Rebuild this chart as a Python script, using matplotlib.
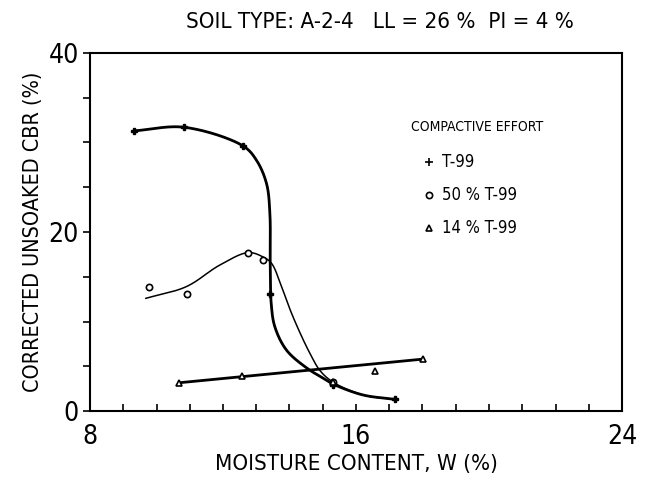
import numpy as np
import matplotlib
matplotlib.use('Agg')
import matplotlib.pyplot as plt
from matplotlib import font_manager

fonts = font_manager.fontManager.ttflist
names = {f.name for f in fonts}
if 'Liberation Sans Narrow' in names:
    FONT, STRETCH = 'Liberation Sans Narrow', 'normal'
elif any(f.name == 'DejaVu Sans' and f.stretch == 'condensed' for f in fonts):
    FONT, STRETCH = 'DejaVu Sans', 'condensed'
elif 'Roboto Condensed' in names:
    FONT, STRETCH = 'Roboto Condensed', 'normal'
else:
    FONT, STRETCH = 'DejaVu Sans', 'condensed'
plt.rcParams['font.family'] = [FONT, 'DejaVu Sans']
plt.rcParams['font.stretch'] = STRETCH

# ---- data points ----
t99_x = [9.33, 10.84, 12.61, 13.41, 15.32, 17.17]
t99_y = [31.3, 31.7, 29.6, 13.1, 2.9, 1.3]
p50_x = [9.78, 10.91, 12.76, 13.21, 15.32]
p50_y = [13.9, 13.1, 17.7, 16.9, 3.2]
p14_x = [10.69, 12.58, 15.32, 16.57, 18.02]
p14_y = [3.16, 3.94, 3.2, 4.47, 5.8]

# ---- hand-fitted curves ----
t99_fit_x = [9.33, 10.84, 12.61, 13.01, 13.31, 13.41, 13.42, 13.45, 13.56, 13.91, 14.52, 15.02, 15.32, 16.2, 17.17]
t99_fit_y = [31.3, 31.7, 29.6, 28.0, 25.4, 22.1, 16.5, 12.0, 9.4, 6.8, 4.8, 3.65, 3.0, 1.8, 1.3]
p50_fit_x = [9.68, 10.9, 11.9, 12.76, 13.21, 13.46, 13.76, 14.02, 14.32, 14.62, 14.92, 15.32, 16.2, 17.17]
p50_fit_y = [12.59, 13.9, 16.3, 17.7, 17.2, 16.5, 13.9, 11.3, 8.7, 6.4, 4.5, 3.2, 1.8, 1.3]

xticks = [8, 16, 24]
yticks = [0, 20, 40]

W, H = 649, 486
fig = plt.figure(figsize=(W / 100, H / 100), dpi=100)
ax = fig.add_axes([90 / W, 1 - 411 / H, (622 - 90) / W, (411 - 53) / H])
ax.set_xlim(8, 24)
ax.set_ylim(0, 40)


def smooth(xs, ys, n=40, alpha=0.5):
    # centripetal Catmull-Rom in display space
    sx, sy = 532 / 16.0, 358 / 40.0
    P = np.column_stack([np.asarray(xs) * sx, np.asarray(ys) * sy])
    P = np.vstack([2 * P[0] - P[1], P, 2 * P[-1] - P[-2]])
    out = []
    for i in range(len(P) - 3):
        p0, p1, p2, p3 = P[i:i + 4]
        def tj(ti, a, b):
            return ti + max(np.linalg.norm(b - a), 1e-6) ** alpha
        t0 = 0.0
        t1 = tj(t0, p0, p1)
        t2 = tj(t1, p1, p2)
        t3 = tj(t2, p2, p3)
        t = np.linspace(t1, t2, n)[:, None]
        A1 = (t1 - t) / (t1 - t0) * p0 + (t - t0) / (t1 - t0) * p1
        A2 = (t2 - t) / (t2 - t1) * p1 + (t - t1) / (t2 - t1) * p2
        A3 = (t3 - t) / (t3 - t2) * p2 + (t - t2) / (t3 - t2) * p3
        B1 = (t2 - t) / (t2 - t0) * A1 + (t - t0) / (t2 - t0) * A2
        B2 = (t3 - t) / (t3 - t1) * A2 + (t - t1) / (t3 - t1) * A3
        C = (t2 - t) / (t2 - t1) * B1 + (t - t1) / (t2 - t1) * B2
        out.append(C)
    C = np.vstack(out)
    return C[:, 0] / sx, C[:, 1] / sy


cx, cy = smooth(t99_fit_x, t99_fit_y)
ax.plot(cx, cy, color='black', lw=2.0, solid_capstyle='round')
cx, cy = smooth(p50_fit_x, p50_fit_y)
ax.plot(cx, cy, color='black', lw=1.1)
ax.plot([p14_x[0], p14_x[-1]], [p14_y[0], p14_y[-1]], color='black', lw=2.0)

ax.plot(t99_x, t99_y, linestyle='none', marker='P', ms=5, color='black')
ax.plot(p50_x, p50_y, linestyle='none', marker='o', ms=4.5, mfc='white', mec='black', mew=1.2)
ax.plot(p14_x, p14_y, linestyle='none', marker='^', ms=5, mfc='white', mec='black', mew=1.2)

# axes styling
ax.set_xticks(xticks)
ax.set_yticks(yticks)
ax.set_xticks(np.arange(8, 25, 1), minor=True)
ax.set_yticks(np.arange(0, 41, 5), minor=True)
ax.tick_params(axis='x', which='both', direction='in', length=5, width=1.2, labelsize=19, pad=9)
ax.tick_params(axis='y', which='both', direction='out', length=5, width=1.2, labelsize=19, pad=3)
for s in ax.spines.values():
    s.set_linewidth(1.5)

ax.set_xlabel('MOISTURE CONTENT, W (%)', fontsize=16, labelpad=3)
ax.set_ylabel('CORRECTED UNSOAKED CBR (%)', fontsize=15.5, labelpad=4)
fig.text(380 / W, 1 - 22 / H, 'SOIL TYPE: A-2-4   LL = 26 %  PI = 4 %', ha='center', va='center', fontsize=16)

# legend (manual)
ax.text(17.65, 31.7, 'COMPACTIVE EFFORT', fontsize=10, va='center', ha='left')
ax.plot([18.2], [27.8], marker='+', color='black', ms=6, mew=1.2)
ax.text(18.6, 27.8, 'T-99', fontsize=12, va='center', ha='left')
ax.plot([18.2], [24.1], marker='o', mfc='white', mec='black', ms=4.5, mew=1.2)
ax.text(18.6, 24.1, '50 % T-99', fontsize=12, va='center', ha='left')
ax.plot([18.2], [20.4], marker='^', mfc='white', mec='black', ms=5, mew=1.2)
ax.text(18.6, 20.4, '14 % T-99', fontsize=12, va='center', ha='left')

fig.savefig('out.png', dpi=100)
